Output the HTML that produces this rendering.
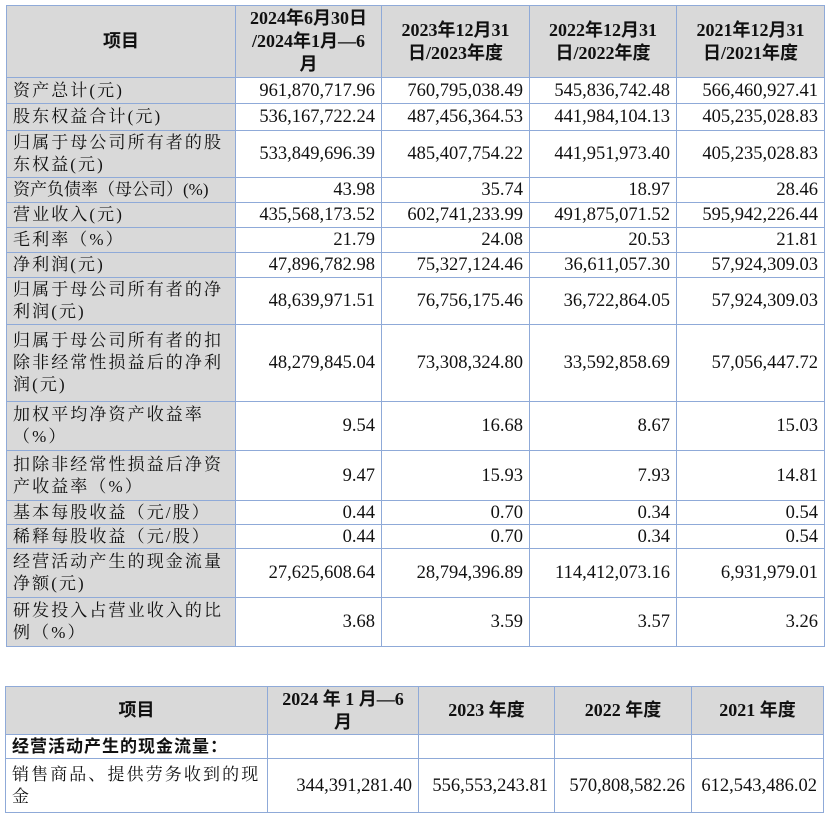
<!DOCTYPE html>
<html><head><meta charset="utf-8"><style>
body{margin:0;width:829px;height:813px;background:#fff;overflow:hidden;position:relative;font-family:"Liberation Serif","Noto Serif CJK SC",serif;color:#111}
table{position:absolute;border-collapse:collapse;table-layout:fixed}
td{border:1.5px solid #8faad8;padding:0 6px;font-size:18.5px;line-height:22px;overflow:hidden;white-space:nowrap}
td.l{background:#d9d9d9;text-align:left;font-size:17px;letter-spacing:2.1px}
td.n{text-align:right}
tr.h td{background:#d9d9d9;font-weight:bold;text-align:center;font-family:"Liberation Serif","Noto Sans CJK SC",sans-serif;font-size:18px;line-height:23px}
</style></head><body>
<table style="left:6px;top:5px;width:818px">
<colgroup><col style="width:229px"><col style="width:146px"><col style="width:148px"><col style="width:147px"><col style="width:148px"></colgroup>
<tr class="h" style="height:72px"><td>项目</td><td>2024年6月30日<br>/2024年1月—6<br>月</td><td>2023年12月31<br>日/2023年度</td><td>2022年12月31<br>日/2022年度</td><td>2021年12月31<br>日/2021年度</td></tr>
<tr style="height:26px"><td class="l">资产总计(元)</td><td class="n">961,870,717.96</td><td class="n">760,795,038.49</td><td class="n">545,836,742.48</td><td class="n">566,460,927.41</td></tr>
<tr style="height:27px"><td class="l">股东权益合计(元)</td><td class="n">536,167,722.24</td><td class="n">487,456,364.53</td><td class="n">441,984,104.13</td><td class="n">405,235,028.83</td></tr>
<tr style="height:47px"><td class="l">归属于母公司所有者的股<br>东权益(元)</td><td class="n">533,849,696.39</td><td class="n">485,407,754.22</td><td class="n">441,951,973.40</td><td class="n">405,235,028.83</td></tr>
<tr style="height:25px"><td class="l" style="letter-spacing:0">资产负债率（母公司）(%)</td><td class="n">43.98</td><td class="n">35.74</td><td class="n">18.97</td><td class="n">28.46</td></tr>
<tr style="height:25px"><td class="l">营业收入(元)</td><td class="n">435,568,173.52</td><td class="n">602,741,233.99</td><td class="n">491,875,071.52</td><td class="n">595,942,226.44</td></tr>
<tr style="height:25px"><td class="l">毛利率（%）</td><td class="n">21.79</td><td class="n">24.08</td><td class="n">20.53</td><td class="n">21.81</td></tr>
<tr style="height:25px"><td class="l">净利润(元)</td><td class="n">47,896,782.98</td><td class="n">75,327,124.46</td><td class="n">36,611,057.30</td><td class="n">57,924,309.03</td></tr>
<tr style="height:47px"><td class="l">归属于母公司所有者的净<br>利润(元)</td><td class="n">48,639,971.51</td><td class="n">76,756,175.46</td><td class="n">36,722,864.05</td><td class="n">57,924,309.03</td></tr>
<tr style="height:77px"><td class="l">归属于母公司所有者的扣<br>除非经常性损益后的净利<br>润(元)</td><td class="n">48,279,845.04</td><td class="n">73,308,324.80</td><td class="n">33,592,858.69</td><td class="n">57,056,447.72</td></tr>
<tr style="height:49px"><td class="l">加权平均净资产收益率<br>（%）</td><td class="n">9.54</td><td class="n">16.68</td><td class="n">8.67</td><td class="n">15.03</td></tr>
<tr style="height:50px"><td class="l">扣除非经常性损益后净资<br>产收益率（%）</td><td class="n">9.47</td><td class="n">15.93</td><td class="n">7.93</td><td class="n">14.81</td></tr>
<tr style="height:24px"><td class="l">基本每股收益（元/股）</td><td class="n">0.44</td><td class="n">0.70</td><td class="n">0.34</td><td class="n">0.54</td></tr>
<tr style="height:24px"><td class="l">稀释每股收益（元/股）</td><td class="n">0.44</td><td class="n">0.70</td><td class="n">0.34</td><td class="n">0.54</td></tr>
<tr style="height:49px"><td class="l">经营活动产生的现金流量<br>净额(元)</td><td class="n">27,625,608.64</td><td class="n">28,794,396.89</td><td class="n">114,412,073.16</td><td class="n">6,931,979.01</td></tr>
<tr style="height:49px"><td class="l">研发投入占营业收入的比<br>例（%）</td><td class="n">3.68</td><td class="n">3.59</td><td class="n">3.57</td><td class="n">3.26</td></tr>
</table>
<table style="left:5px;top:686px;width:818px">
<colgroup><col style="width:262px"><col style="width:151px"><col style="width:136px"><col style="width:137px"><col style="width:132px"></colgroup>
<tr class="h" style="height:48px"><td>项目</td><td>2024 年 1 月—6<br>月</td><td>2023 年度</td><td>2022 年度</td><td>2021 年度</td></tr>
<tr style="height:24px"><td style="font-weight:bold;font-family:'Liberation Sans','Noto Sans CJK SC',sans-serif;font-size:17px;letter-spacing:1px">经营活动产生的现金流量：</td><td></td><td></td><td></td><td></td></tr>
<tr style="height:54px"><td style="letter-spacing:2.1px;font-size:17px">销售商品、提供劳务收到的现<br>金</td><td class="n">344,391,281.40</td><td class="n">556,553,243.81</td><td class="n">570,808,582.26</td><td class="n">612,543,486.02</td></tr>
</table>
</body></html>
